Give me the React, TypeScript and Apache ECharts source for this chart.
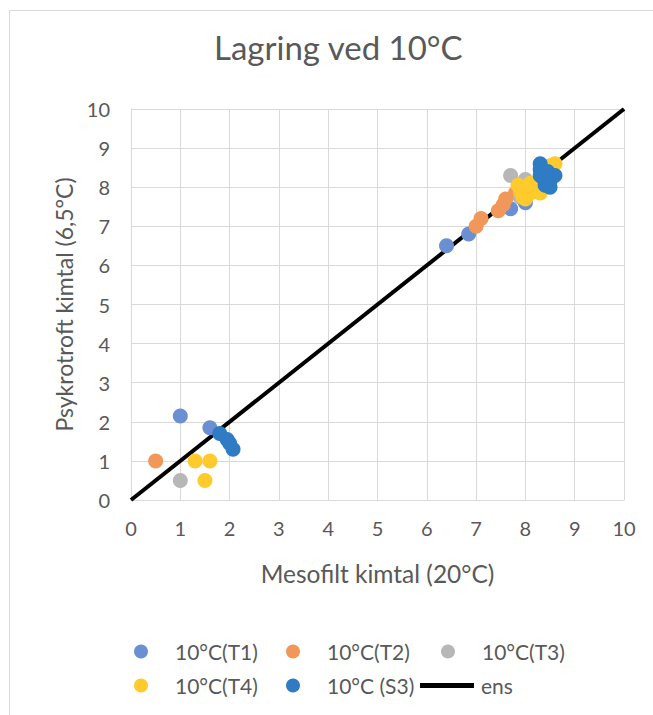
import React, { useEffect, useRef } from "react";
import * as echarts from "echarts";

const title = "Lagring ved 10°C";
const xName = "Mesofilt kimtal (20°C)";
const yName = "Psykrotroft kimtal (6,5°C)";
const seriesNames = ["10°C(T1)", "10°C(T2)", "10°C(T3)", "10°C(T4)", "10°C (S3)", "ens"];
const seriesColors = ["#6A8FD2", "#F1975A", "#B7B7B7", "#FFCA2B", "#2F7BC4", "#000000"];

const t1: number[][] = [[1.0, 2.15], [1.6, 1.85], [6.4, 6.5], [6.85, 6.8], [7.7, 7.45], [8.0, 7.6], [7.9, 7.75]];
const t2: number[][] = [[0.5, 1.0], [7.0, 7.0], [7.1, 7.2], [7.45, 7.4], [7.55, 7.55], [7.6, 7.7], [7.8, 7.85], [7.95, 7.95]];
const t3: number[][] = [[1.0, 0.5], [7.7, 8.3], [8.0, 8.2], [7.9, 7.75], [8.05, 8.05]];
const t4: number[][] = [
  [1.3, 1.0], [1.6, 1.0], [1.5, 0.5], [7.9, 7.9], [8.0, 8.0], [7.95, 7.75], [8.1, 7.85], [8.2, 7.9],
  [8.0, 7.7], [7.85, 8.05], [8.1, 8.1], [8.25, 8.0], [8.6, 8.6], [8.5, 8.55], [8.3, 7.85],
];
const s3: number[][] = [
  [1.8, 1.7], [1.95, 1.55], [2.0, 1.45], [2.07, 1.3], [8.3, 8.6], [8.3, 8.45], [8.45, 8.4],
  [8.6, 8.3], [8.5, 8.15], [8.35, 8.25], [8.4, 8.05], [8.5, 8.0], [8.3, 8.3],
];
const ens: number[][] = [[0, 0], [10, 10]];

const FONT = "Lato";
const GREY = "#595959";

export default function App() {
  const ref = useRef<HTMLDivElement>(null);
  useEffect(() => {
    if (!ref.current) return;
    const chart = echarts.init(ref.current, undefined, { renderer: "svg" });
    const scatterData = [t1, t2, t3, t4, s3];
    const legendPos = [
      [134, 641], [286, 641], [441, 641],
      [134, 675], [286, 675],
    ];
    const legends: any[] = scatterData.map((_, i) => ({
      data: [seriesNames[i]],
      left: legendPos[i][0],
      top: legendPos[i][1],
      padding: 0,
      icon: "circle",
      itemWidth: 14,
      itemHeight: 14,
      selectedMode: false,
      textStyle: { color: GREY, fontSize: 21, fontFamily: FONT, padding: [0, 0, 0, 22] },
    }));
    legends.push({
      data: [seriesNames[5]],
      left: 420,
      top: 675,
      padding: 0,
      icon: "rect",
      itemWidth: 54,
      itemHeight: 5,
      selectedMode: false,
      textStyle: { color: GREY, fontSize: 21, fontFamily: FONT, padding: [0, 0, 0, 2] },
    });
    chart.setOption({
      animation: false,
      backgroundColor: "#ffffff",
      title: {
        text: title,
        left: 214,
        top: 30,
        padding: 0,
        textStyle: { color: GREY, fontSize: 33, fontWeight: "normal", fontFamily: FONT },
      },
      graphic: [
        {
          type: "rect",
          shape: { x: 9.5, y: 10.5, width: 700, height: 720 },
          style: { fill: "none", stroke: "#D9D9D9", lineWidth: 1 },
          silent: true,
        },
      ],
      legend: legends,
      grid: { left: 131, right: 29, top: 109, bottom: 215, containLabel: false },
      xAxis: {
        type: "value",
        min: 0,
        max: 10,
        interval: 1,
        name: xName,
        nameLocation: "middle",
        nameGap: 61,
        nameTextStyle: { color: GREY, fontSize: 24.5, fontFamily: FONT },
        axisLine: { show: true, lineStyle: { color: "#D9D9D9" } },
        axisTick: { show: false },
        axisLabel: { color: GREY, fontSize: 20, fontFamily: FONT, margin: 18 },
        splitLine: { show: true, lineStyle: { color: "#D9D9D9", width: 1 } },
      },
      yAxis: {
        type: "value",
        min: 0,
        max: 10,
        interval: 1,
        name: yName,
        nameLocation: "middle",
        nameGap: 56,
        nameTextStyle: { color: GREY, fontSize: 23, fontFamily: FONT },
        axisLine: { show: true, lineStyle: { color: "#D9D9D9" } },
        axisTick: { show: false },
        axisLabel: { color: GREY, fontSize: 20, fontFamily: FONT, margin: 21 },
        splitLine: { show: true, lineStyle: { color: "#D9D9D9", width: 1 } },
      },
      series: [
        {
          name: seriesNames[5],
          type: "line",
          data: ens,
          showSymbol: false,
          symbol: "none",
          lineStyle: { color: "#000000", width: 4 },
          itemStyle: { color: "#000000" },
          z: 1,
        },
        ...scatterData.map((d, i) => ({
          name: seriesNames[i],
          type: "scatter",
          data: d,
          symbol: "circle",
          symbolSize: 15,
          itemStyle: { color: seriesColors[i], opacity: 1 },
          z: 2 + i,
        })),
      ],
    });
    return () => chart.dispose();
  }, []);
  return <div ref={ref} style={{ width: 653, height: 715, position: "absolute", left: 0, top: 0 }} />;
}
